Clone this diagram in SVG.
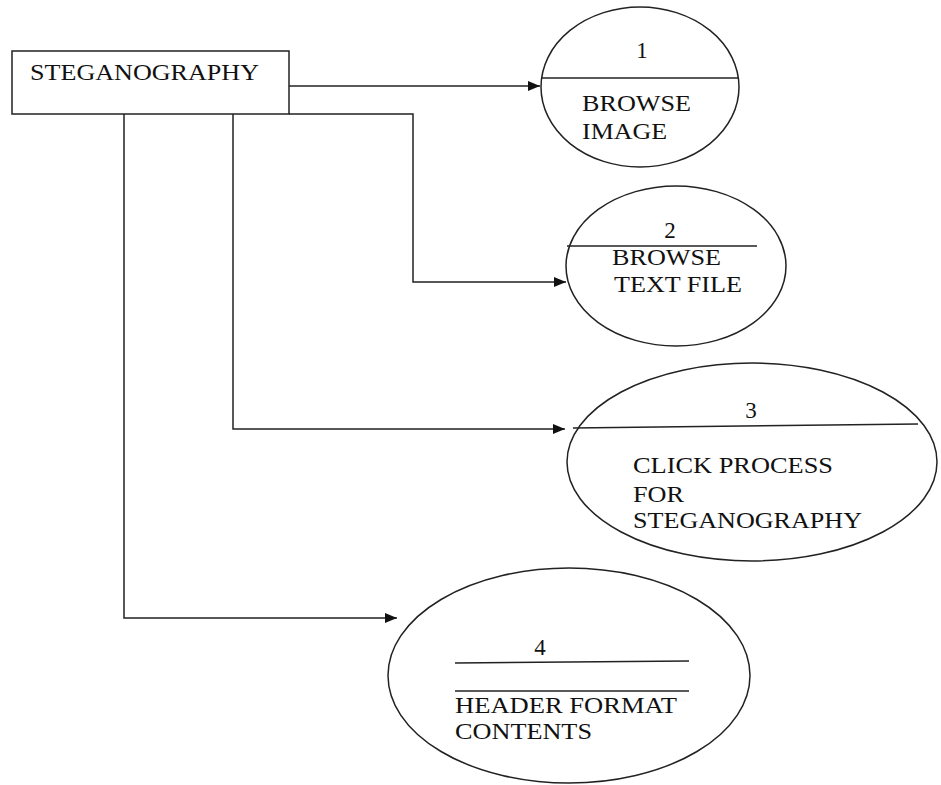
<svg xmlns="http://www.w3.org/2000/svg" width="941" height="785" viewBox="0 0 941 785">
<style>
  .shape{fill:none;stroke:#222;stroke-width:1.5}
  .conn{fill:none;stroke:#222;stroke-width:1.5}
  .t{font-family:"Liberation Serif","Times New Roman",serif;font-size:23px;fill:#111}
  .n{text-anchor:middle}
</style>
<defs>
  <marker id="arr" markerUnits="userSpaceOnUse" markerWidth="14" markerHeight="12" refX="12" refY="5" orient="auto">
    <path d="M0,0 L12,5 L0,10 Z" fill="#111"/>
  </marker>
</defs>
<rect width="941" height="785" fill="#fff"/>
<g id="connectors">
  <path class="conn" d="M289,86 H540" marker-end="url(#arr)"/>
  <path class="conn" d="M289,114 H413 V282 H566" marker-end="url(#arr)"/>
  <path class="conn" d="M233,114 V429 H565" marker-end="url(#arr)"/>
  <path class="conn" d="M124,114 V618 H397" marker-end="url(#arr)"/>
</g>
<g id="steganography">
  <rect class="shape" x="12" y="51" width="277" height="63"/>
  <text class="t" x="30" y="80" textLength="229" lengthAdjust="spacingAndGlyphs">STEGANOGRAPHY</text>
</g>
<g id="p1">
  <ellipse class="shape" cx="640" cy="87" rx="99" ry="80"/>
  <line class="shape" x1="541" y1="78" x2="739" y2="78"/>
  <text class="t n" x="642" y="58">1</text>
  <text class="t" x="582" y="111" textLength="109" lengthAdjust="spacingAndGlyphs">BROWSE</text>
  <text class="t" x="582" y="139" textLength="85" lengthAdjust="spacingAndGlyphs">IMAGE</text>
</g>
<g id="p2">
  <ellipse class="shape" cx="676" cy="266" rx="110" ry="80"/>
  <line class="shape" x1="567" y1="246" x2="757" y2="246"/>
  <text class="t n" x="670" y="238">2</text>
  <text class="t" x="612" y="265" textLength="109" lengthAdjust="spacingAndGlyphs">BROWSE</text>
  <text class="t" x="614" y="292" textLength="128" lengthAdjust="spacingAndGlyphs">TEXT FILE</text>
</g>
<g id="p3">
  <ellipse class="shape" cx="752" cy="462" rx="185" ry="99"/>
  <line class="shape" x1="573" y1="428" x2="918" y2="424"/>
  <text class="t n" x="751" y="418">3</text>
  <text class="t" x="633" y="473" textLength="200" lengthAdjust="spacingAndGlyphs">CLICK PROCESS</text>
  <text class="t" x="633" y="502" textLength="51" lengthAdjust="spacingAndGlyphs">FOR</text>
  <text class="t" x="633" y="528" textLength="229" lengthAdjust="spacingAndGlyphs">STEGANOGRAPHY</text>
</g>
<g id="p4">
  <ellipse class="shape" cx="569" cy="675.5" rx="181" ry="107.5"/>
  <line class="shape" x1="455" y1="663" x2="689" y2="661"/>
  <line class="shape" x1="455" y1="691" x2="689" y2="691"/>
  <text class="t n" x="540" y="655">4</text>
  <text class="t" x="455" y="713" textLength="222" lengthAdjust="spacingAndGlyphs">HEADER FORMAT</text>
  <text class="t" x="455" y="739" textLength="137" lengthAdjust="spacingAndGlyphs">CONTENTS</text>
</g>
</svg>
